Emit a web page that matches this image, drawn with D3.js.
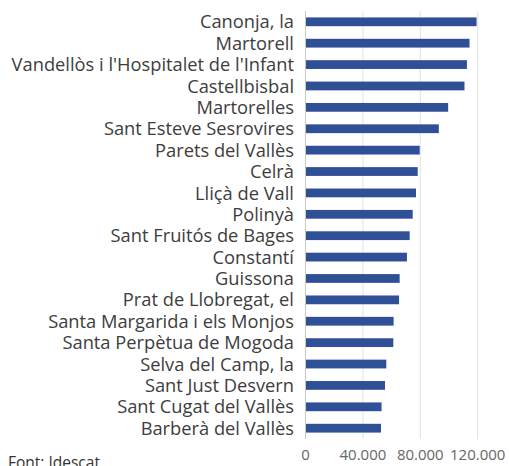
<!DOCTYPE html>
<html>
<head>
<meta charset="utf-8">
<script src="https://cdn.jsdelivr.net/npm/d3@7"></script>
<style>
  body { margin: 0; background: #fff; }
  svg { display: block; font-family: 'Open Sans', sans-serif; }
</style>
</head>
<body>
<div id="chart"></div>
<script>
// municipalities, top to bottom
var municipis = [
    'Canonja, la', 'Martorell', "Vandellòs i l'Hospitalet de l'Infant", 'Castellbisbal',
    'Martorelles', 'Sant Esteve Sesrovires', 'Parets del Vallès', 'Celrà',
    'Lliçà de Vall', 'Polinyà', 'Sant Fruitós de Bages', 'Constantí', 'Guissona',
    'Prat de Llobregat, el', 'Santa Margarida i els Monjos', 'Santa Perpètua de Mogoda',
    'Selva del Camp, la', 'Sant Just Desvern', 'Sant Cugat del Vallès', 'Barberà del Vallès'
];
var valors = [
    119200, 114300, 112500, 110800, 99400, 92900, 79600, 78200, 77000, 74700,
    72600, 70700, 65600, 65200, 61400, 61200, 56300, 55400, 53000, 52600
];
var ticks = [0, 40000, 80000, 120000];
var font = 'Font: Idescat.';

var width = 509;
var height = 466;

var svg = d3.select('#chart').append('svg')
    .attr('width', width)
    .attr('height', height);

var x = d3.scaleLinear().domain([0, 120000]).range([305.5, 477.7]);
var y = d3.scaleBand().domain(municipis).range([11, 439]).paddingInner(0.59).paddingOuter(0.3);

// gridlines
svg.selectAll('.grid')
    .data(ticks)
    .enter().append('line')
    .attr('x1', function (d) { return x(d); })
    .attr('x2', function (d) { return x(d); })
    .attr('y1', 11)
    .attr('y2', 439)
    .attr('stroke', function (d) { return d === 0 ? '#c8c8c8' : '#e2e2e2'; })
    .attr('stroke-width', 1);

// bars
svg.selectAll('.bar')
    .data(municipis)
    .enter().append('rect')
    .attr('x', x(0) + 0.5)
    .attr('y', function (d) { return y(d); })
    .attr('width', function (d, i) { return x(valors[i]) - x(0) - 0.5; })
    .attr('height', y.bandwidth())
    .attr('fill', '#2f4f96');

// category labels
svg.selectAll('.label')
    .data(municipis)
    .enter().append('text')
    .attr('x', 294)
    .attr('y', function (d) { return y(d) + y.bandwidth() / 2; })
    .attr('dy', '0.36em')
    .attr('text-anchor', 'end')
    .style('font-size', '18.3px')
    .attr('fill', '#3d3d3d')
    .text(function (d) { return d; });

// x tick labels
var fmt = function (d) { return d3.format(',')(d).replace(/,/g, '.'); };
svg.selectAll('.tick')
    .data(ticks)
    .enter().append('text')
    .attr('x', function (d) { return x(d); })
    .attr('y', 460)
    .attr('text-anchor', 'middle')
    .style('font-size', '15px')
    .attr('fill', '#666')
    .text(fmt);

// source
svg.append('text')
    .attr('x', 8)
    .attr('y', 468)
    .style('font-size', '15.5px')
    .attr('fill', '#333')
    .text(font);
</script>
</body>
</html>
